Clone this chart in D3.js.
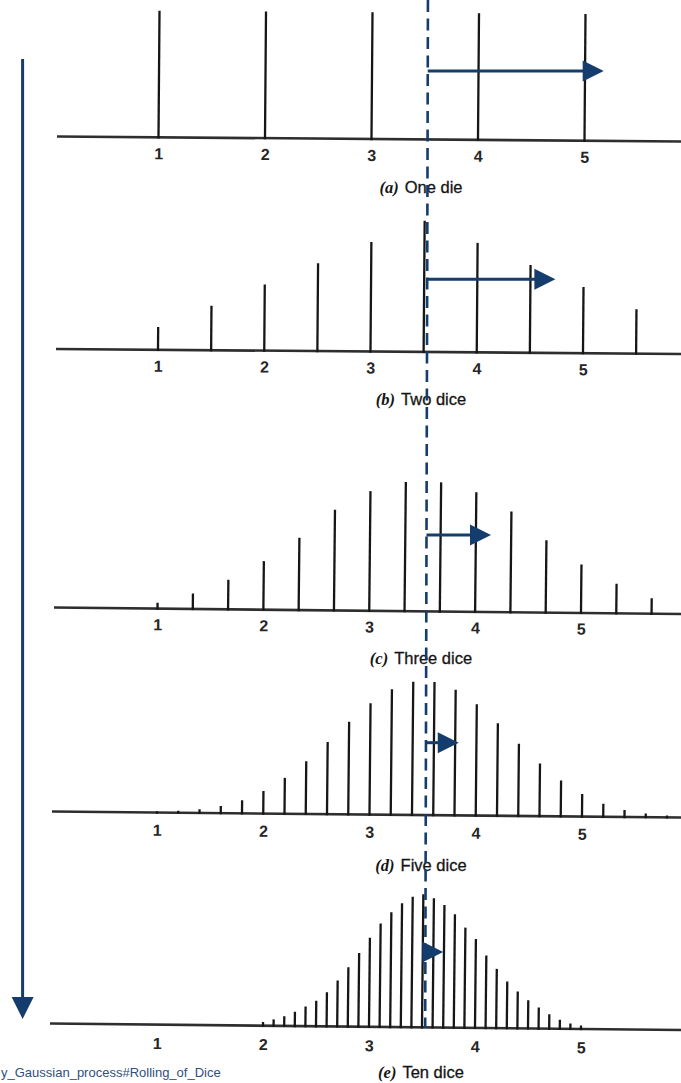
<!DOCTYPE html>
<html lang="en">
<head>
<meta charset="UTF-8">
<title>Rolling of dice</title>
<script src="https://d3js.org/d3.v7.min.js"></script>
<style>
  body { margin: 0; background: #fff; }
  .caption { font-family: "Liberation Sans", Arial, sans-serif; font-size: 16.5px; fill: #151515; stroke: #151515; stroke-width: 0.3px; }
  .caption .tag { font-family: "Liberation Serif", "Times New Roman", serif; font-style: italic; font-weight: bold; stroke-width: 0; }
</style>
</head>
<body>
<svg id="chart" width="681" height="1083"></svg>
<script>
// ---- data ----
const tickValues = [1, 2, 3, 4, 5];
const tickLabels = ["1", "2", "3", "4", "5"];

const oneDieSum = [1, 2, 3, 4, 5, 6];
const oneDieCount = [1, 1, 1, 1, 1, 1];

const twoDiceSum = [2, 3, 4, 5, 6, 7, 8, 9, 10, 11, 12];
const twoDiceCount = [1, 2, 3, 4, 5, 6, 5, 4, 3, 2, 1];

const threeDiceSum = [3, 4, 5, 6, 7, 8, 9, 10, 11, 12, 13, 14, 15, 16, 17, 18];
const threeDiceCount = [1, 3, 6, 10, 15, 21, 25, 27, 27, 25, 21, 15, 10, 6, 3, 1];

const fiveDiceSum = [5, 6, 7, 8, 9, 10, 11, 12, 13, 14, 15, 16, 17, 18, 19, 20,
                     21, 22, 23, 24, 25, 26, 27, 28, 29, 30];
const fiveDiceCount = [1, 5, 15, 35, 70, 126, 205, 305, 420, 540, 651, 735, 780,
                       780, 735, 651, 540, 420, 305, 205, 126, 70, 35, 15, 5, 1];

const tenDiceSum = [20, 21, 22, 23, 24, 25, 26, 27, 28, 29, 30, 31, 32, 33, 34, 35,
                    36, 37, 38, 39, 40, 41, 42, 43, 44, 45, 46, 47, 48, 49, 50];
// relative heights (peak = 100)
const tenDiceHeight = [2, 4, 6.5, 10, 14, 18.5, 25, 34, 44, 55, 66.5, 77.5, 86, 93, 98, 100,
                       97, 92, 85, 75, 66.5, 54, 44, 34.5, 27, 20.5, 15, 10, 6, 3.2, 1.8];

const captionTags = ["(a)", "(b)", "(c)", "(d)", "(e)"];
const captionTexts = ["One die", "Two dice", "Three dice", "Five dice", "Ten dice"];
const arrowTipMean = [5.18, 4.74, 4.15, 3.84, 3.70];
const dashedMean = 3.53;
const sourceText = "y_Gaussian_process#Rolling_of_Dice";

// ---- layout of the scanned panels ----
const navy = "#143c6c";
const panels = [
  { n: 1,  sums: oneDieSum,    vals: oneDieCount,    x1: 158.5, x5: 584.5, base: 137.3, angle: 0.46, left: 57, peak: 125.5, label: 22, capY: 193, arrowY: 71 },
  { n: 2,  sums: twoDiceSum,   vals: twoDiceCount,   x1: 158,   x5: 583,   base: 349.8, angle: 0.46, left: 56, peak: 130,   label: 22, capY: 405, arrowY: 279.3 },
  { n: 3,  sums: threeDiceSum, vals: threeDiceCount, x1: 157.5, x5: 581,   base: 608.6, angle: 0.59, left: 54, peak: 128,   label: 21.7, capY: 664, arrowY: 535 },
  { n: 5,  sums: fiveDiceSum,  vals: fiveDiceCount,  x1: 157,   x5: 582,   base: 812.5, angle: 0.55, left: 52, peak: 132,   label: 23.2, capY: 871, arrowY: 742.7 },
  { n: 10, sums: tenDiceSum,   vals: tenDiceHeight,  x1: 157,   x5: 581,   base: 1024.6, angle: 0.59, left: 50, peak: 132,  label: 24.4, capY: 1078, arrowY: 952 }
];

const svg = d3.select("#chart");
svg.append("rect").attr("width", 681).attr("height", 1083).attr("fill", "#fff");

const scales = [];

panels.forEach((p, i) => {
  const meanScale = d3.scaleLinear().domain([1, 5]).range([p.x1, p.x5]);
  const sumScale = meanScale.copy().domain([p.n, 5 * p.n]);
  const hScale = d3.scaleLinear().domain([0, d3.max(p.vals)]).range([0, p.peak]);
  scales.push(meanScale);

  const g = svg.append("g")
    .attr("transform", `translate(0,${p.base}) rotate(${p.angle},${p.x1},0)`);

  // baseline
  g.append("line")
    .attr("x1", p.left).attr("x2", 700)
    .attr("y1", 0).attr("y2", 0)
    .attr("stroke", "#2e2e2e")
    .attr("stroke-width", 2.6);

  // bars
  g.selectAll("line.bar").data(p.sums)
    .join("line")
    .attr("class", "bar")
    .attr("x1", d => sumScale(d))
    .attr("x2", d => sumScale(d))
    .attr("y1", 0)
    .attr("y2", (d, j) => -hScale(p.vals[j]))
    .attr("stroke", "#161616")
    .attr("stroke-width", 2.3)
    .attr("stroke-linecap", "square");

  // tick labels
  const axis = d3.axisBottom(meanScale)
    .tickValues(tickValues)
    .tickFormat((d, j) => tickLabels[j])
    .tickSize(0);
  const ag = g.append("g").call(axis)
    .attr("font-family", "'Liberation Sans', Arial, sans-serif")
    .attr("font-size", 16)
    .attr("font-weight", "bold");
  ag.select(".domain").remove();
  ag.selectAll("text")
    .attr("y", p.label)
    .attr("dy", null)
    .attr("fill", "#262626");

  // caption
  const cap = svg.append("text")
    .attr("class", "caption")
    .attr("x", 421)
    .attr("y", p.capY)
    .attr("text-anchor", "middle");
  cap.append("tspan").attr("class", "tag").text(captionTags[i]);
  cap.append("tspan").attr("dx", 6).text(captionTexts[i]);
});

// ---- overlay: dashed mean line and arrows ----
const dashTopY = 0, dashBottomY = 1028;
const dashX = d3.scaleLinear()
  .domain([dashTopY, dashBottomY])
  .range([scales[0](dashedMean), scales[4](dashedMean)]);

svg.append("line")
  .attr("x1", dashX(dashTopY)).attr("y1", dashTopY)
  .attr("x2", dashX(dashBottomY)).attr("y2", dashBottomY)
  .attr("stroke", navy)
  .attr("stroke-width", 2.6)
  .attr("stroke-dasharray", "12,6.5");

const headLen = 21, headHalf = 10.5;
panels.forEach((p, i) => {
  const y = p.arrowY;
  const x0 = dashX(y);
  const tip = scales[i](arrowTipMean[i]);
  if (tip - headLen > x0) {
    svg.append("line")
      .attr("x1", x0).attr("x2", tip - headLen + 1)
      .attr("y1", y).attr("y2", y)
      .attr("stroke", navy)
      .attr("stroke-width", 3);
  }
  svg.append("path")
    .attr("d", `M${tip},${y} L${tip - headLen},${y - headHalf} L${tip - headLen},${y + headHalf} Z`)
    .attr("fill", navy);
});

// left downward arrow
const arrowX = 22.6;
svg.append("line")
  .attr("x1", arrowX).attr("x2", arrowX)
  .attr("y1", 59).attr("y2", 998)
  .attr("stroke", navy)
  .attr("stroke-width", 3);
svg.append("path")
  .attr("d", `M${arrowX - 11},997 L${arrowX + 11},997 L${arrowX},1019 Z`)
  .attr("fill", navy);

// source text, cut at the left edge
svg.append("text")
  .attr("x", 1)
  .attr("y", 1077)
  .attr("font-family", "'Liberation Sans', Arial, sans-serif")
  .attr("font-size", 13)
  .attr("fill", "#2e4f7f")
  .text(sourceText);
</script>
</body>
</html>
